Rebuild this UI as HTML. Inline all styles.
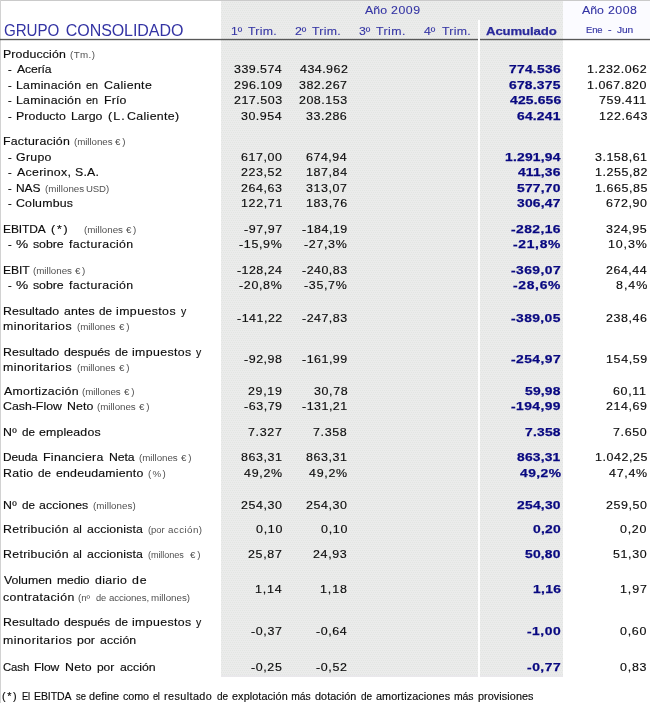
<!DOCTYPE html>
<html><head><meta charset="utf-8"><title>Grupo Consolidado</title><style>
html,body{margin:0;padding:0;background:#fff;}
body{width:650px;height:703px;position:relative;overflow:hidden;font-family:"Liberation Sans",sans-serif;}
.t{position:absolute;white-space:pre;display:block;transform-origin:0 0;}
.b{-webkit-text-stroke:0.15px currentColor;}
.g{position:absolute;}
#tx{position:absolute;left:0;top:0;width:650px;height:703px;will-change:transform;}
</style></head><body>

<svg class="g" style="left:221px;top:0;" width="342" height="677" viewBox="0 0 342 677" shape-rendering="crispEdges"><defs><pattern id="dz" width="2" height="4" patternUnits="userSpaceOnUse"><rect width="2" height="4" fill="#ebebeb"/><rect x="0" y="0" width="1" height="1" fill="#e2e6e2"/><rect x="1" y="2" width="1" height="1" fill="#e2e6e2"/></pattern></defs><rect width="342" height="675" fill="url(#dz)"/><rect y="675" width="342" height="2" fill="#e9e8eb"/></svg>
<div class="g" style="left:563px;top:0;width:87px;height:39px;background:#fbfbff;"></div>
<div class="g" style="left:0;top:0;width:650px;height:1px;background:#cacaca;"></div>
<div class="g" style="left:0;top:0;width:1px;height:703px;background:#d2d2d2;"></div>
<div class="g" style="left:0;top:38px;width:650px;height:1px;background:rgba(0,0,0,0.10);"></div>
<div class="g" style="left:0;top:39px;width:650px;height:1px;background:#585858;"></div>
<div class="g" style="left:0;top:40px;width:650px;height:1px;background:rgba(0,0,0,0.13);"></div>
<div class="g" style="left:478px;top:20px;width:2px;height:657px;background:#fff;"></div>
<div id="tx">
<span class="t" style="left:3.64px;top:20px;font-size:16px;line-height:21px;color:#3434a4;letter-spacing:-0.100px;transform:scaleX(0.9470638485491472);">GRUPO</span>
<span class="t" style="left:65.79px;top:20px;font-size:16px;line-height:21px;color:#3434a4;letter-spacing:-0.066px;">CONSOLIDADO</span>
<span class="t" style="left:364.88px;top:2px;font-size:11.75px;line-height:15px;color:#3434a4;letter-spacing:0.091px;transform:scaleX(1.05);-webkit-text-stroke:0.1px currentColor;">Año</span>
<span class="t" style="left:391.28px;top:2px;font-size:11.75px;line-height:15px;color:#3434a4;letter-spacing:0.527px;transform:scaleX(1.05);-webkit-text-stroke:0.1px currentColor;">2009</span>
<span class="t" style="left:582.08px;top:2px;font-size:11.75px;line-height:15px;color:#3434a4;letter-spacing:-0.052px;transform:scaleX(1.05);-webkit-text-stroke:0.1px currentColor;">Año</span>
<span class="t" style="left:608.28px;top:2px;font-size:11.75px;line-height:15px;color:#3434a4;letter-spacing:0.448px;transform:scaleX(1.05);-webkit-text-stroke:0.1px currentColor;">2008</span>
<span class="t" style="left:230.88px;top:23px;font-size:11.75px;line-height:15px;color:#3434a4;letter-spacing:-0.100px;transform:scaleX(1.032221645405653);-webkit-text-stroke:0.1px currentColor;">1º</span>
<span class="t" style="left:247.82px;top:23px;font-size:11.75px;line-height:15px;color:#3434a4;letter-spacing:0.265px;transform:scaleX(1.05);-webkit-text-stroke:0.1px currentColor;">Trim.</span>
<span class="t" style="left:295.18px;top:23px;font-size:11.75px;line-height:15px;color:#3434a4;transform:scaleX(1.05);-webkit-text-stroke:0.1px currentColor;">2º</span>
<span class="t" style="left:312.42px;top:23px;font-size:11.75px;line-height:15px;color:#3434a4;letter-spacing:0.265px;transform:scaleX(1.05);-webkit-text-stroke:0.1px currentColor;">Trim.</span>
<span class="t" style="left:359.33px;top:23px;font-size:11.75px;line-height:15px;color:#3434a4;letter-spacing:-0.100px;transform:scaleX(1.0458443335324688);-webkit-text-stroke:0.1px currentColor;">3º</span>
<span class="t" style="left:376.42px;top:23px;font-size:11.75px;line-height:15px;color:#3434a4;letter-spacing:0.408px;transform:scaleX(1.05);-webkit-text-stroke:0.1px currentColor;">Trim.</span>
<span class="t" style="left:423.92px;top:23px;font-size:11.75px;line-height:15px;color:#3434a4;letter-spacing:-0.032px;transform:scaleX(1.05);-webkit-text-stroke:0.1px currentColor;">4º</span>
<span class="t" style="left:441.52px;top:23px;font-size:11.75px;line-height:15px;color:#3434a4;letter-spacing:0.265px;transform:scaleX(1.05);-webkit-text-stroke:0.1px currentColor;">Trim.</span>
<span class="t" style="left:486.37px;top:23px;font-size:11.75px;line-height:15px;color:#2a2a9c;letter-spacing:-0.100px;font-weight:bold;transform:scaleX(1.1197419407320965);-webkit-text-stroke:0.25px currentColor;">Acumulado</span>
<span class="t" style="left:586.43px;top:24px;font-size:9.6px;line-height:12px;color:#3434a4;letter-spacing:-0.100px;transform:scaleX(0.9829460456766788);-webkit-text-stroke:0.15px currentColor;">Ene</span>
<span class="t" style="left:608.23px;top:24px;font-size:9.6px;line-height:12px;color:#3434a4;transform:scaleX(1.1093333333333917);-webkit-text-stroke:0.15px currentColor;">-</span>
<span class="t" style="left:617.04px;top:24px;font-size:9.6px;line-height:12px;color:#3434a4;letter-spacing:-0.100px;transform:scaleX(1.0617257352149152);-webkit-text-stroke:0.15px currentColor;">Jun</span>
<span class="t b" style="left:3.09px;top:46px;font-size:11.75px;line-height:15px;color:#0c0c0c;letter-spacing:0.115px;transform:scaleX(1.05);">Producción</span>
<span class="t s" style="left:69.69px;top:50px;font-size:8.5px;line-height:11px;color:#505050;letter-spacing:0.364px;transform:scaleX(1.15);">(Tm.)</span>
<span class="t b" style="left:8.21px;top:61px;font-size:11.75px;line-height:15px;color:#0c0c0c;transform:scaleX(0.9412085106382976);">-</span>
<span class="t b" style="left:16.68px;top:61px;font-size:11.75px;line-height:15px;color:#0c0c0c;letter-spacing:-0.100px;transform:scaleX(1.0348079106564592);">Acería</span>
<span class="t b" style="left:8.21px;top:77px;font-size:11.75px;line-height:15px;color:#0c0c0c;transform:scaleX(0.9412085106382976);">-</span>
<span class="t b" style="left:16.39px;top:77px;font-size:11.75px;line-height:15px;color:#0c0c0c;letter-spacing:0.203px;transform:scaleX(1.05);">Laminación</span>
<span class="t b" style="left:86.34px;top:77px;font-size:11.75px;line-height:15px;color:#0c0c0c;letter-spacing:-0.100px;transform:scaleX(0.9224955894681072);">en</span>
<span class="t b" style="left:103.77px;top:77px;font-size:11.75px;line-height:15px;color:#0c0c0c;letter-spacing:0.341px;transform:scaleX(1.05);">Caliente</span>
<span class="t b" style="left:8.21px;top:92px;font-size:11.75px;line-height:15px;color:#0c0c0c;transform:scaleX(0.9412085106382976);">-</span>
<span class="t b" style="left:16.39px;top:92px;font-size:11.75px;line-height:15px;color:#0c0c0c;letter-spacing:0.203px;transform:scaleX(1.05);">Laminación</span>
<span class="t b" style="left:86.34px;top:92px;font-size:11.75px;line-height:15px;color:#0c0c0c;letter-spacing:-0.100px;transform:scaleX(0.9224955894681072);">en</span>
<span class="t b" style="left:103.99px;top:92px;font-size:11.75px;line-height:15px;color:#0c0c0c;letter-spacing:0.126px;transform:scaleX(1.05);">Frío</span>
<span class="t b" style="left:8.21px;top:108px;font-size:11.75px;line-height:15px;color:#0c0c0c;transform:scaleX(0.9412085106382976);">-</span>
<span class="t b" style="left:15.99px;top:108px;font-size:11.75px;line-height:15px;color:#0c0c0c;letter-spacing:0.075px;transform:scaleX(1.05);">Producto</span>
<span class="t b" style="left:70.79px;top:108px;font-size:11.75px;line-height:15px;color:#0c0c0c;letter-spacing:-0.053px;transform:scaleX(1.05);">Largo</span>
<span class="t b" style="left:107.63px;top:108px;font-size:11.75px;line-height:15px;color:#0c0c0c;letter-spacing:1.092px;transform:scaleX(1.05);">(L.</span>
<span class="t b" style="left:126.77px;top:108px;font-size:11.75px;line-height:15px;color:#0c0c0c;letter-spacing:0.335px;transform:scaleX(1.05);">Caliente)</span>
<span class="t b" style="left:3.09px;top:133px;font-size:11.75px;line-height:15px;color:#0c0c0c;letter-spacing:0.224px;transform:scaleX(1.05);">Facturación</span>
<span class="t s" style="left:73.99px;top:137px;font-size:8.5px;line-height:11px;color:#505050;letter-spacing:-0.060px;transform:scaleX(1.15);">(millones</span>
<span class="t s" style="left:115.42px;top:137px;font-size:8.5px;line-height:11px;color:#505050;letter-spacing:1.644px;transform:scaleX(1.15);">€)</span>
<span class="t b" style="left:8.21px;top:149px;font-size:11.75px;line-height:15px;color:#0c0c0c;transform:scaleX(0.9412085106382976);">-</span>
<span class="t b" style="left:16.08px;top:149px;font-size:11.75px;line-height:15px;color:#0c0c0c;letter-spacing:0.274px;transform:scaleX(1.05);">Grupo</span>
<span class="t b" style="left:8.21px;top:164px;font-size:11.75px;line-height:15px;color:#0c0c0c;transform:scaleX(0.9412085106382976);">-</span>
<span class="t b" style="left:16.78px;top:164px;font-size:11.75px;line-height:15px;color:#0c0c0c;letter-spacing:0.298px;transform:scaleX(1.05);">Acerinox,</span>
<span class="t b" style="left:74.84px;top:164px;font-size:11.75px;line-height:15px;color:#0c0c0c;letter-spacing:0.182px;transform:scaleX(1.05);">S.A.</span>
<span class="t b" style="left:8.21px;top:180px;font-size:11.75px;line-height:15px;color:#0c0c0c;transform:scaleX(0.9412085106382976);">-</span>
<span class="t b" style="left:15.72px;top:180px;font-size:11.75px;line-height:15px;color:#0c0c0c;letter-spacing:-0.100px;transform:scaleX(1.0197440159682896);">NAS</span>
<span class="t s" style="left:44.69px;top:184px;font-size:8.5px;line-height:11px;color:#505050;letter-spacing:0.005px;transform:scaleX(1.15);">(millones</span>
<span class="t s" style="left:86.26px;top:184px;font-size:8.5px;line-height:11px;color:#505050;letter-spacing:-0.100px;transform:scaleX(1.1298852814564935);">USD)</span>
<span class="t b" style="left:8.21px;top:195px;font-size:11.75px;line-height:15px;color:#0c0c0c;transform:scaleX(0.9412085106382976);">-</span>
<span class="t b" style="left:16.07px;top:195px;font-size:11.75px;line-height:15px;color:#0c0c0c;letter-spacing:0.194px;transform:scaleX(1.05);">Columbus</span>
<span class="t b" style="left:3.12px;top:221px;font-size:11.75px;line-height:15px;color:#0c0c0c;letter-spacing:-0.100px;transform:scaleX(1.0182646305730017);">EBITDA</span>
<span class="t b" style="left:51.33px;top:221px;font-size:11.75px;line-height:15px;color:#0c0c0c;letter-spacing:1.768px;transform:scaleX(1.05);">(*)</span>
<span class="t s" style="left:84.09px;top:225px;font-size:8.5px;line-height:11px;color:#505050;letter-spacing:-0.016px;transform:scaleX(1.15);">(millones</span>
<span class="t s" style="left:126.22px;top:225px;font-size:8.5px;line-height:11px;color:#505050;letter-spacing:1.383px;transform:scaleX(1.15);">€)</span>
<span class="t b" style="left:8.21px;top:236px;font-size:11.75px;line-height:15px;color:#0c0c0c;transform:scaleX(0.9412085106382976);">-</span>
<span class="t b" style="left:16.21px;top:236px;font-size:11.75px;line-height:15px;color:#0c0c0c;transform:scaleX(1.165454429977771);">%</span>
<span class="t b" style="left:33.26px;top:236px;font-size:11.75px;line-height:15px;color:#0c0c0c;letter-spacing:-0.064px;transform:scaleX(1.05);">sobre</span>
<span class="t b" style="left:68.53px;top:236px;font-size:11.75px;line-height:15px;color:#0c0c0c;letter-spacing:0.364px;transform:scaleX(1.05);">facturación</span>
<span class="t b" style="left:3.11px;top:262px;font-size:11.75px;line-height:15px;color:#0c0c0c;letter-spacing:-0.100px;transform:scaleX(1.0291794574871365);">EBIT</span>
<span class="t s" style="left:33.29px;top:266px;font-size:8.5px;line-height:11px;color:#505050;letter-spacing:-0.016px;transform:scaleX(1.15);">(millones</span>
<span class="t s" style="left:75.42px;top:266px;font-size:8.5px;line-height:11px;color:#505050;letter-spacing:1.383px;transform:scaleX(1.15);">€)</span>
<span class="t b" style="left:8.21px;top:277px;font-size:11.75px;line-height:15px;color:#0c0c0c;transform:scaleX(0.9412085106382976);">-</span>
<span class="t b" style="left:16.21px;top:277px;font-size:11.75px;line-height:15px;color:#0c0c0c;transform:scaleX(1.165454429977771);">%</span>
<span class="t b" style="left:33.26px;top:277px;font-size:11.75px;line-height:15px;color:#0c0c0c;letter-spacing:-0.064px;transform:scaleX(1.05);">sobre</span>
<span class="t b" style="left:68.53px;top:277px;font-size:11.75px;line-height:15px;color:#0c0c0c;letter-spacing:0.364px;transform:scaleX(1.05);">facturación</span>
<span class="t b" style="left:3.09px;top:303px;font-size:11.75px;line-height:15px;color:#0c0c0c;letter-spacing:0.068px;transform:scaleX(1.05);">Resultado</span>
<span class="t b" style="left:63.98px;top:303px;font-size:11.75px;line-height:15px;color:#0c0c0c;letter-spacing:0.093px;transform:scaleX(1.05);">antes</span>
<span class="t b" style="left:99.41px;top:303px;font-size:11.75px;line-height:15px;color:#0c0c0c;letter-spacing:-0.100px;transform:scaleX(0.9954762590398225);">de</span>
<span class="t b" style="left:116.47px;top:303px;font-size:11.75px;line-height:15px;color:#0c0c0c;letter-spacing:0.398px;transform:scaleX(1.05);">impuestos</span>
<span class="t b" style="left:180.67px;top:303px;font-size:11.75px;line-height:15px;color:#0c0c0c;transform:scaleX(0.8929546169164638);">y</span>
<span class="t b" style="left:3.28px;top:318px;font-size:11.75px;line-height:15px;color:#0c0c0c;letter-spacing:0.416px;transform:scaleX(1.05);">minoritarios</span>
<span class="t s" style="left:76.99px;top:322px;font-size:8.5px;line-height:11px;color:#505050;letter-spacing:-0.082px;transform:scaleX(1.15);">(millones</span>
<span class="t s" style="left:118.52px;top:322px;font-size:8.5px;line-height:11px;color:#505050;letter-spacing:1.557px;transform:scaleX(1.15);">€)</span>
<span class="t b" style="left:3.09px;top:344px;font-size:11.75px;line-height:15px;color:#0c0c0c;letter-spacing:0.068px;transform:scaleX(1.05);">Resultado</span>
<span class="t b" style="left:63.98px;top:344px;font-size:11.75px;line-height:15px;color:#0c0c0c;letter-spacing:-0.061px;transform:scaleX(1.05);">después</span>
<span class="t b" style="left:115.11px;top:344px;font-size:11.75px;line-height:15px;color:#0c0c0c;letter-spacing:-0.100px;transform:scaleX(0.9954762590398225);">de</span>
<span class="t b" style="left:132.17px;top:344px;font-size:11.75px;line-height:15px;color:#0c0c0c;letter-spacing:0.350px;transform:scaleX(1.05);">impuestos</span>
<span class="t b" style="left:196.37px;top:344px;font-size:11.75px;line-height:15px;color:#0c0c0c;transform:scaleX(0.8929546169164638);">y</span>
<span class="t b" style="left:3.28px;top:359px;font-size:11.75px;line-height:15px;color:#0c0c0c;letter-spacing:0.416px;transform:scaleX(1.05);">minoritarios</span>
<span class="t s" style="left:76.99px;top:363px;font-size:8.5px;line-height:11px;color:#505050;letter-spacing:-0.082px;transform:scaleX(1.15);">(millones</span>
<span class="t s" style="left:118.52px;top:363px;font-size:8.5px;line-height:11px;color:#505050;letter-spacing:1.557px;transform:scaleX(1.15);">€)</span>
<span class="t b" style="left:3.68px;top:383px;font-size:11.75px;line-height:15px;color:#0c0c0c;letter-spacing:0.279px;transform:scaleX(1.05);">Amortización</span>
<span class="t s" style="left:82.29px;top:387px;font-size:8.5px;line-height:11px;color:#505050;letter-spacing:-0.038px;transform:scaleX(1.15);">(millones</span>
<span class="t s" style="left:124.22px;top:387px;font-size:8.5px;line-height:11px;color:#505050;letter-spacing:1.557px;transform:scaleX(1.15);">€)</span>
<span class="t b" style="left:3.07px;top:398px;font-size:11.75px;line-height:15px;color:#0c0c0c;letter-spacing:-0.007px;transform:scaleX(1.05);">Cash-Flow</span>
<span class="t b" style="left:67.19px;top:398px;font-size:11.75px;line-height:15px;color:#0c0c0c;letter-spacing:0.117px;transform:scaleX(1.05);">Neto</span>
<span class="t s" style="left:97.29px;top:402px;font-size:8.5px;line-height:11px;color:#505050;letter-spacing:-0.038px;transform:scaleX(1.15);">(millones</span>
<span class="t s" style="left:139.22px;top:402px;font-size:8.5px;line-height:11px;color:#505050;letter-spacing:1.557px;transform:scaleX(1.15);">€)</span>
<span class="t b" style="left:2.69px;top:424px;font-size:11.75px;line-height:15px;color:#0c0c0c;letter-spacing:0.330px;transform:scaleX(1.05);">Nº</span>
<span class="t b" style="left:21.61px;top:424px;font-size:11.75px;line-height:15px;color:#0c0c0c;letter-spacing:-0.100px;transform:scaleX(0.9954762590398234);">de</span>
<span class="t b" style="left:39.28px;top:424px;font-size:11.75px;line-height:15px;color:#0c0c0c;letter-spacing:0.144px;transform:scaleX(1.05);">empleados</span>
<span class="t b" style="left:2.73px;top:449px;font-size:11.75px;line-height:15px;color:#0c0c0c;letter-spacing:-0.100px;transform:scaleX(1.0101992056437317);">Deuda</span>
<span class="t b" style="left:42.79px;top:449px;font-size:11.75px;line-height:15px;color:#0c0c0c;letter-spacing:0.287px;transform:scaleX(1.05);">Financiera</span>
<span class="t b" style="left:108.59px;top:449px;font-size:11.75px;line-height:15px;color:#0c0c0c;letter-spacing:-0.100px;transform:scaleX(1.0443326472106305);">Neta</span>
<span class="t s" style="left:139.09px;top:453px;font-size:8.5px;line-height:11px;color:#505050;letter-spacing:-0.038px;transform:scaleX(1.15);">(millones</span>
<span class="t s" style="left:181.02px;top:453px;font-size:8.5px;line-height:11px;color:#505050;letter-spacing:1.557px;transform:scaleX(1.15);">€)</span>
<span class="t b" style="left:2.69px;top:465px;font-size:11.75px;line-height:15px;color:#0c0c0c;letter-spacing:0.316px;transform:scaleX(1.05);">Ratio</span>
<span class="t b" style="left:37.61px;top:465px;font-size:11.75px;line-height:15px;color:#0c0c0c;letter-spacing:-0.100px;transform:scaleX(0.9954762590398231);">de</span>
<span class="t b" style="left:55.68px;top:465px;font-size:11.75px;line-height:15px;color:#0c0c0c;letter-spacing:0.181px;transform:scaleX(1.05);">endeudamiento</span>
<span class="t s" style="left:148.09px;top:469px;font-size:8.5px;line-height:11px;color:#505050;letter-spacing:1.092px;transform:scaleX(1.15);">(%)</span>
<span class="t b" style="left:2.69px;top:497px;font-size:11.75px;line-height:15px;color:#0c0c0c;letter-spacing:0.330px;transform:scaleX(1.05);">Nº</span>
<span class="t b" style="left:21.61px;top:497px;font-size:11.75px;line-height:15px;color:#0c0c0c;letter-spacing:-0.100px;transform:scaleX(0.9954762590398234);">de</span>
<span class="t b" style="left:39.28px;top:497px;font-size:11.75px;line-height:15px;color:#0c0c0c;letter-spacing:0.078px;transform:scaleX(1.05);">acciones</span>
<span class="t s" style="left:92.99px;top:501px;font-size:8.5px;line-height:11px;color:#505050;letter-spacing:0.034px;transform:scaleX(1.15);">(millones)</span>
<span class="t b" style="left:2.69px;top:521px;font-size:11.75px;line-height:15px;color:#0c0c0c;letter-spacing:0.296px;transform:scaleX(1.05);">Retribución</span>
<span class="t b" style="left:73.42px;top:521px;font-size:11.75px;line-height:15px;color:#0c0c0c;letter-spacing:-0.100px;transform:scaleX(0.9664814663335979);">al</span>
<span class="t b" style="left:87.38px;top:521px;font-size:11.75px;line-height:15px;color:#0c0c0c;letter-spacing:0.102px;transform:scaleX(1.05);">accionista</span>
<span class="t s" style="left:148.11px;top:525px;font-size:8.5px;line-height:11px;color:#505050;letter-spacing:-0.100px;transform:scaleX(1.1168043183394833);">(por</span>
<span class="t s" style="left:167.68px;top:525px;font-size:8.5px;line-height:11px;color:#505050;letter-spacing:0.378px;transform:scaleX(1.15);">acción)</span>
<span class="t b" style="left:2.69px;top:546px;font-size:11.75px;line-height:15px;color:#0c0c0c;letter-spacing:0.296px;transform:scaleX(1.05);">Retribución</span>
<span class="t b" style="left:73.42px;top:546px;font-size:11.75px;line-height:15px;color:#0c0c0c;letter-spacing:-0.100px;transform:scaleX(0.9664814663335979);">al</span>
<span class="t b" style="left:87.38px;top:546px;font-size:11.75px;line-height:15px;color:#0c0c0c;letter-spacing:0.102px;transform:scaleX(1.05);">accionista</span>
<span class="t s" style="left:148.13px;top:550px;font-size:8.5px;line-height:11px;color:#505050;letter-spacing:-0.100px;transform:scaleX(1.074934278099789);">(millones</span>
<span class="t s" style="left:189.62px;top:550px;font-size:8.5px;line-height:11px;color:#505050;letter-spacing:1.644px;transform:scaleX(1.15);">€)</span>
<span class="t b" style="left:3.65px;top:572px;font-size:11.75px;line-height:15px;color:#0c0c0c;letter-spacing:-0.022px;transform:scaleX(1.05);">Volumen</span>
<span class="t b" style="left:56.99px;top:572px;font-size:11.75px;line-height:15px;color:#0c0c0c;letter-spacing:-0.100px;transform:scaleX(1.0320154297434707);">medio</span>
<span class="t b" style="left:95.08px;top:572px;font-size:11.75px;line-height:15px;color:#0c0c0c;letter-spacing:0.335px;transform:scaleX(1.05);">diario</span>
<span class="t b" style="left:132.48px;top:572px;font-size:11.75px;line-height:15px;color:#0c0c0c;letter-spacing:0.803px;transform:scaleX(1.05);">de</span>
<span class="t b" style="left:3.18px;top:589px;font-size:11.75px;line-height:15px;color:#0c0c0c;letter-spacing:0.356px;transform:scaleX(1.05);">contratación</span>
<span class="t s" style="left:78.49px;top:593px;font-size:8.5px;line-height:11px;color:#505050;letter-spacing:-0.059px;transform:scaleX(1.15);">(nº</span>
<span class="t s" style="left:95.71px;top:593px;font-size:8.5px;line-height:11px;color:#505050;letter-spacing:-0.100px;transform:scaleX(1.0904909452409417);">de</span>
<span class="t s" style="left:108.69px;top:593px;font-size:8.5px;line-height:11px;color:#505050;letter-spacing:-0.100px;transform:scaleX(1.1416995090524298);">acciones,</span>
<span class="t s" style="left:151.45px;top:593px;font-size:8.5px;line-height:11px;color:#505050;letter-spacing:-0.006px;transform:scaleX(1.15);">millones)</span>
<span class="t b" style="left:2.69px;top:614px;font-size:11.75px;line-height:15px;color:#0c0c0c;letter-spacing:0.116px;transform:scaleX(1.05);">Resultado</span>
<span class="t b" style="left:63.98px;top:614px;font-size:11.75px;line-height:15px;color:#0c0c0c;letter-spacing:-0.061px;transform:scaleX(1.05);">después</span>
<span class="t b" style="left:115.11px;top:614px;font-size:11.75px;line-height:15px;color:#0c0c0c;letter-spacing:-0.100px;transform:scaleX(0.9954762590398225);">de</span>
<span class="t b" style="left:132.17px;top:614px;font-size:11.75px;line-height:15px;color:#0c0c0c;letter-spacing:0.350px;transform:scaleX(1.05);">impuestos</span>
<span class="t b" style="left:196.37px;top:614px;font-size:11.75px;line-height:15px;color:#0c0c0c;transform:scaleX(0.8929546169164638);">y</span>
<span class="t b" style="left:2.88px;top:632px;font-size:11.75px;line-height:15px;color:#0c0c0c;letter-spacing:0.451px;transform:scaleX(1.05);">minoritarios</span>
<span class="t b" style="left:77.10px;top:632px;font-size:11.75px;line-height:15px;color:#0c0c0c;letter-spacing:0.033px;transform:scaleX(1.05);">por</span>
<span class="t b" style="left:100.08px;top:632px;font-size:11.75px;line-height:15px;color:#0c0c0c;letter-spacing:0.107px;transform:scaleX(1.05);">acción</span>
<span class="t b" style="left:3.12px;top:659px;font-size:11.75px;line-height:15px;color:#0c0c0c;letter-spacing:-0.100px;transform:scaleX(0.9662280967683261);">Cash</span>
<span class="t b" style="left:34.41px;top:659px;font-size:11.75px;line-height:15px;color:#0c0c0c;letter-spacing:-0.100px;transform:scaleX(1.0308436564973018);">Flow</span>
<span class="t b" style="left:65.19px;top:659px;font-size:11.75px;line-height:15px;color:#0c0c0c;letter-spacing:0.213px;transform:scaleX(1.05);">Neto</span>
<span class="t b" style="left:97.12px;top:659px;font-size:11.75px;line-height:15px;color:#0c0c0c;letter-spacing:-0.100px;transform:scaleX(1.0233714477836136);">por</span>
<span class="t b" style="left:120.08px;top:659px;font-size:11.75px;line-height:15px;color:#0c0c0c;letter-spacing:-0.007px;transform:scaleX(1.05);">acción</span>
<span class="t" style="left:234.33px;top:61px;font-size:11.75px;line-height:15px;color:#0c0c0c;letter-spacing:0.427px;transform:scaleX(1.06);-webkit-text-stroke:0.15px currentColor;">339.574</span>
<span class="t" style="left:299.51px;top:61px;font-size:11.75px;line-height:15px;color:#0c0c0c;letter-spacing:0.439px;transform:scaleX(1.06);-webkit-text-stroke:0.15px currentColor;">434.962</span>
<span class="t" style="left:509.20px;top:61px;font-size:11.75px;line-height:15px;color:#080880;letter-spacing:0.209px;font-weight:bold;transform:scaleX(1.18);-webkit-text-stroke:0.25px currentColor;">774.536</span>
<span class="t" style="left:587.40px;top:61px;font-size:11.75px;line-height:15px;color:#0c0c0c;letter-spacing:0.497px;transform:scaleX(1.06);-webkit-text-stroke:0.15px currentColor;">1.232.062</span>
<span class="t" style="left:234.17px;top:77px;font-size:11.75px;line-height:15px;color:#0c0c0c;letter-spacing:0.487px;transform:scaleX(1.06);-webkit-text-stroke:0.15px currentColor;">296.109</span>
<span class="t" style="left:299.33px;top:77px;font-size:11.75px;line-height:15px;color:#0c0c0c;letter-spacing:0.468px;transform:scaleX(1.06);-webkit-text-stroke:0.15px currentColor;">382.267</span>
<span class="t" style="left:509.29px;top:77px;font-size:11.75px;line-height:15px;color:#080880;letter-spacing:0.180px;font-weight:bold;transform:scaleX(1.18);-webkit-text-stroke:0.25px currentColor;">678.375</span>
<span class="t" style="left:587.40px;top:77px;font-size:11.75px;line-height:15px;color:#0c0c0c;letter-spacing:0.481px;transform:scaleX(1.06);-webkit-text-stroke:0.15px currentColor;">1.067.820</span>
<span class="t" style="left:234.17px;top:92px;font-size:11.75px;line-height:15px;color:#0c0c0c;letter-spacing:0.480px;transform:scaleX(1.06);-webkit-text-stroke:0.15px currentColor;">217.503</span>
<span class="t" style="left:299.17px;top:92px;font-size:11.75px;line-height:15px;color:#0c0c0c;letter-spacing:0.480px;transform:scaleX(1.06);-webkit-text-stroke:0.15px currentColor;">208.153</span>
<span class="t" style="left:509.59px;top:92px;font-size:11.75px;line-height:15px;color:#080880;letter-spacing:0.154px;font-weight:bold;transform:scaleX(1.18);-webkit-text-stroke:0.25px currentColor;">425.656</span>
<span class="t" style="left:598.86px;top:92px;font-size:11.75px;line-height:15px;color:#0c0c0c;letter-spacing:0.491px;transform:scaleX(1.06);-webkit-text-stroke:0.15px currentColor;">759.411</span>
<span class="t" style="left:241.48px;top:108px;font-size:11.75px;line-height:15px;color:#0c0c0c;letter-spacing:0.471px;transform:scaleX(1.06);-webkit-text-stroke:0.15px currentColor;">30.954</span>
<span class="t" style="left:306.48px;top:108px;font-size:11.75px;line-height:15px;color:#0c0c0c;letter-spacing:0.505px;transform:scaleX(1.06);-webkit-text-stroke:0.15px currentColor;">33.286</span>
<span class="t" style="left:517.29px;top:108px;font-size:11.75px;line-height:15px;color:#080880;letter-spacing:0.167px;font-weight:bold;transform:scaleX(1.18);-webkit-text-stroke:0.25px currentColor;">64.241</span>
<span class="t" style="left:598.55px;top:108px;font-size:11.75px;line-height:15px;color:#0c0c0c;letter-spacing:0.531px;transform:scaleX(1.06);-webkit-text-stroke:0.15px currentColor;">122.643</span>
<span class="t" style="left:241.32px;top:149px;font-size:11.75px;line-height:15px;color:#0c0c0c;letter-spacing:0.523px;transform:scaleX(1.06);-webkit-text-stroke:0.15px currentColor;">617,00</span>
<span class="t" style="left:306.32px;top:149px;font-size:11.75px;line-height:15px;color:#0c0c0c;letter-spacing:0.500px;transform:scaleX(1.06);-webkit-text-stroke:0.15px currentColor;">674,94</span>
<span class="t" style="left:504.93px;top:149px;font-size:11.75px;line-height:15px;color:#080880;letter-spacing:0.179px;font-weight:bold;transform:scaleX(1.18);-webkit-text-stroke:0.25px currentColor;">1.291,94</span>
<span class="t" style="left:595.03px;top:149px;font-size:11.75px;line-height:15px;color:#0c0c0c;letter-spacing:0.472px;transform:scaleX(1.06);-webkit-text-stroke:0.15px currentColor;">3.158,61</span>
<span class="t" style="left:241.32px;top:164px;font-size:11.75px;line-height:15px;color:#0c0c0c;letter-spacing:0.549px;transform:scaleX(1.06);-webkit-text-stroke:0.15px currentColor;">223,52</span>
<span class="t" style="left:306.00px;top:164px;font-size:11.75px;line-height:15px;color:#0c0c0c;letter-spacing:0.560px;transform:scaleX(1.06);-webkit-text-stroke:0.15px currentColor;">187,84</span>
<span class="t" style="left:517.59px;top:164px;font-size:11.75px;line-height:15px;color:#080880;letter-spacing:0.136px;font-weight:bold;transform:scaleX(1.18);-webkit-text-stroke:0.25px currentColor;">411,36</span>
<span class="t" style="left:594.55px;top:164px;font-size:11.75px;line-height:15px;color:#0c0c0c;letter-spacing:0.538px;transform:scaleX(1.06);-webkit-text-stroke:0.15px currentColor;">1.255,82</span>
<span class="t" style="left:241.32px;top:180px;font-size:11.75px;line-height:15px;color:#0c0c0c;letter-spacing:0.534px;transform:scaleX(1.06);-webkit-text-stroke:0.15px currentColor;">264,63</span>
<span class="t" style="left:306.48px;top:180px;font-size:11.75px;line-height:15px;color:#0c0c0c;letter-spacing:0.520px;transform:scaleX(1.06);-webkit-text-stroke:0.15px currentColor;">313,07</span>
<span class="t" style="left:517.37px;top:180px;font-size:11.75px;line-height:15px;color:#080880;letter-spacing:0.184px;font-weight:bold;transform:scaleX(1.18);-webkit-text-stroke:0.25px currentColor;">577,70</span>
<span class="t" style="left:594.55px;top:180px;font-size:11.75px;line-height:15px;color:#0c0c0c;letter-spacing:0.524px;transform:scaleX(1.06);-webkit-text-stroke:0.15px currentColor;">1.665,85</span>
<span class="t" style="left:241.00px;top:195px;font-size:11.75px;line-height:15px;color:#0c0c0c;letter-spacing:0.606px;transform:scaleX(1.06);-webkit-text-stroke:0.15px currentColor;">122,71</span>
<span class="t" style="left:306.00px;top:195px;font-size:11.75px;line-height:15px;color:#0c0c0c;letter-spacing:0.595px;transform:scaleX(1.06);-webkit-text-stroke:0.15px currentColor;">183,76</span>
<span class="t" style="left:517.48px;top:195px;font-size:11.75px;line-height:15px;color:#080880;letter-spacing:0.173px;font-weight:bold;transform:scaleX(1.18);-webkit-text-stroke:0.25px currentColor;">306,47</span>
<span class="t" style="left:606.02px;top:195px;font-size:11.75px;line-height:15px;color:#0c0c0c;letter-spacing:0.523px;transform:scaleX(1.06);-webkit-text-stroke:0.15px currentColor;">672,90</span>
<span class="t" style="left:244.25px;top:221px;font-size:11.75px;line-height:15px;color:#0c0c0c;letter-spacing:0.522px;transform:scaleX(1.06);-webkit-text-stroke:0.15px currentColor;">-97,97</span>
<span class="t" style="left:302.10px;top:221px;font-size:11.75px;line-height:15px;color:#0c0c0c;letter-spacing:0.464px;transform:scaleX(1.06);-webkit-text-stroke:0.15px currentColor;">-184,19</span>
<span class="t" style="left:511.26px;top:221px;font-size:11.75px;line-height:15px;color:#080880;letter-spacing:0.356px;font-weight:bold;transform:scaleX(1.18);-webkit-text-stroke:0.25px currentColor;">-282,16</span>
<span class="t" style="left:606.18px;top:221px;font-size:11.75px;line-height:15px;color:#0c0c0c;letter-spacing:0.500px;transform:scaleX(1.06);-webkit-text-stroke:0.15px currentColor;">324,95</span>
<span class="t" style="left:239.40px;top:236px;font-size:11.75px;line-height:15px;color:#0c0c0c;letter-spacing:0.620px;transform:scaleX(1.06);-webkit-text-stroke:0.15px currentColor;">-15,9%</span>
<span class="t" style="left:304.40px;top:236px;font-size:11.75px;line-height:15px;color:#0c0c0c;letter-spacing:0.620px;transform:scaleX(1.06);-webkit-text-stroke:0.15px currentColor;">-27,3%</span>
<span class="t" style="left:513.26px;top:236px;font-size:11.75px;line-height:15px;color:#080880;letter-spacing:0.589px;font-weight:bold;transform:scaleX(1.18);-webkit-text-stroke:0.25px currentColor;">-21,8%</span>
<span class="t" style="left:608.00px;top:236px;font-size:11.75px;line-height:15px;color:#0c0c0c;letter-spacing:0.832px;transform:scaleX(1.06);-webkit-text-stroke:0.15px currentColor;">10,3%</span>
<span class="t" style="left:237.10px;top:262px;font-size:11.75px;line-height:15px;color:#0c0c0c;letter-spacing:0.429px;transform:scaleX(1.06);-webkit-text-stroke:0.15px currentColor;">-128,24</span>
<span class="t" style="left:302.10px;top:262px;font-size:11.75px;line-height:15px;color:#0c0c0c;letter-spacing:0.457px;transform:scaleX(1.06);-webkit-text-stroke:0.15px currentColor;">-240,83</span>
<span class="t" style="left:511.26px;top:262px;font-size:11.75px;line-height:15px;color:#080880;letter-spacing:0.371px;font-weight:bold;transform:scaleX(1.18);-webkit-text-stroke:0.25px currentColor;">-369,07</span>
<span class="t" style="left:606.02px;top:262px;font-size:11.75px;line-height:15px;color:#0c0c0c;letter-spacing:0.499px;transform:scaleX(1.06);-webkit-text-stroke:0.15px currentColor;">264,44</span>
<span class="t" style="left:239.40px;top:277px;font-size:11.75px;line-height:15px;color:#0c0c0c;letter-spacing:0.620px;transform:scaleX(1.06);-webkit-text-stroke:0.15px currentColor;">-20,8%</span>
<span class="t" style="left:304.40px;top:277px;font-size:11.75px;line-height:15px;color:#0c0c0c;letter-spacing:0.620px;transform:scaleX(1.06);-webkit-text-stroke:0.15px currentColor;">-35,7%</span>
<span class="t" style="left:513.26px;top:277px;font-size:11.75px;line-height:15px;color:#080880;letter-spacing:0.589px;font-weight:bold;transform:scaleX(1.18);-webkit-text-stroke:0.25px currentColor;">-28,6%</span>
<span class="t" style="left:615.56px;top:277px;font-size:11.75px;line-height:15px;color:#0c0c0c;letter-spacing:0.911px;transform:scaleX(1.06);-webkit-text-stroke:0.15px currentColor;">8,4%</span>
<span class="t" style="left:237.10px;top:310px;font-size:11.75px;line-height:15px;color:#0c0c0c;letter-spacing:0.470px;transform:scaleX(1.06);-webkit-text-stroke:0.15px currentColor;">-141,22</span>
<span class="t" style="left:302.10px;top:310px;font-size:11.75px;line-height:15px;color:#0c0c0c;letter-spacing:0.457px;transform:scaleX(1.06);-webkit-text-stroke:0.15px currentColor;">-247,83</span>
<span class="t" style="left:511.26px;top:310px;font-size:11.75px;line-height:15px;color:#080880;letter-spacing:0.339px;font-weight:bold;transform:scaleX(1.18);-webkit-text-stroke:0.25px currentColor;">-389,05</span>
<span class="t" style="left:606.02px;top:310px;font-size:11.75px;line-height:15px;color:#0c0c0c;letter-spacing:0.534px;transform:scaleX(1.06);-webkit-text-stroke:0.15px currentColor;">238,46</span>
<span class="t" style="left:244.25px;top:351px;font-size:11.75px;line-height:15px;color:#0c0c0c;letter-spacing:0.506px;transform:scaleX(1.06);-webkit-text-stroke:0.15px currentColor;">-92,98</span>
<span class="t" style="left:302.10px;top:351px;font-size:11.75px;line-height:15px;color:#0c0c0c;letter-spacing:0.464px;transform:scaleX(1.06);-webkit-text-stroke:0.15px currentColor;">-161,99</span>
<span class="t" style="left:511.26px;top:351px;font-size:11.75px;line-height:15px;color:#080880;letter-spacing:0.371px;font-weight:bold;transform:scaleX(1.18);-webkit-text-stroke:0.25px currentColor;">-254,97</span>
<span class="t" style="left:605.70px;top:351px;font-size:11.75px;line-height:15px;color:#0c0c0c;letter-spacing:0.603px;transform:scaleX(1.06);-webkit-text-stroke:0.15px currentColor;">154,59</span>
<span class="t" style="left:248.47px;top:383px;font-size:11.75px;line-height:15px;color:#0c0c0c;letter-spacing:0.625px;transform:scaleX(1.06);-webkit-text-stroke:0.15px currentColor;">29,19</span>
<span class="t" style="left:313.63px;top:383px;font-size:11.75px;line-height:15px;color:#0c0c0c;letter-spacing:0.577px;transform:scaleX(1.06);-webkit-text-stroke:0.15px currentColor;">30,78</span>
<span class="t" style="left:525.37px;top:383px;font-size:11.75px;line-height:15px;color:#080880;letter-spacing:0.139px;font-weight:bold;transform:scaleX(1.18);-webkit-text-stroke:0.25px currentColor;">59,98</span>
<span class="t" style="left:613.17px;top:383px;font-size:11.75px;line-height:15px;color:#0c0c0c;letter-spacing:0.630px;transform:scaleX(1.06);-webkit-text-stroke:0.15px currentColor;">60,11</span>
<span class="t" style="left:244.25px;top:398px;font-size:11.75px;line-height:15px;color:#0c0c0c;letter-spacing:0.515px;transform:scaleX(1.06);-webkit-text-stroke:0.15px currentColor;">-63,79</span>
<span class="t" style="left:302.10px;top:398px;font-size:11.75px;line-height:15px;color:#0c0c0c;letter-spacing:0.467px;transform:scaleX(1.06);-webkit-text-stroke:0.15px currentColor;">-131,21</span>
<span class="t" style="left:511.26px;top:398px;font-size:11.75px;line-height:15px;color:#080880;letter-spacing:0.358px;font-weight:bold;transform:scaleX(1.18);-webkit-text-stroke:0.25px currentColor;">-194,99</span>
<span class="t" style="left:606.02px;top:398px;font-size:11.75px;line-height:15px;color:#0c0c0c;letter-spacing:0.542px;transform:scaleX(1.06);-webkit-text-stroke:0.15px currentColor;">214,69</span>
<span class="t" style="left:248.46px;top:424px;font-size:11.75px;line-height:15px;color:#0c0c0c;letter-spacing:0.636px;transform:scaleX(1.06);-webkit-text-stroke:0.15px currentColor;">7.327</span>
<span class="t" style="left:313.46px;top:424px;font-size:11.75px;line-height:15px;color:#0c0c0c;letter-spacing:0.616px;transform:scaleX(1.06);-webkit-text-stroke:0.15px currentColor;">7.358</span>
<span class="t" style="left:525.20px;top:424px;font-size:11.75px;line-height:15px;color:#080880;letter-spacing:0.175px;font-weight:bold;transform:scaleX(1.18);-webkit-text-stroke:0.25px currentColor;">7.358</span>
<span class="t" style="left:613.16px;top:424px;font-size:11.75px;line-height:15px;color:#0c0c0c;letter-spacing:0.603px;transform:scaleX(1.06);-webkit-text-stroke:0.15px currentColor;">7.650</span>
<span class="t" style="left:241.41px;top:449px;font-size:11.75px;line-height:15px;color:#0c0c0c;letter-spacing:0.529px;transform:scaleX(1.06);-webkit-text-stroke:0.15px currentColor;">863,31</span>
<span class="t" style="left:306.41px;top:449px;font-size:11.75px;line-height:15px;color:#0c0c0c;letter-spacing:0.529px;transform:scaleX(1.06);-webkit-text-stroke:0.15px currentColor;">863,31</span>
<span class="t" style="left:517.36px;top:449px;font-size:11.75px;line-height:15px;color:#080880;letter-spacing:0.156px;font-weight:bold;transform:scaleX(1.18);-webkit-text-stroke:0.25px currentColor;">863,31</span>
<span class="t" style="left:594.55px;top:449px;font-size:11.75px;line-height:15px;color:#0c0c0c;letter-spacing:0.524px;transform:scaleX(1.06);-webkit-text-stroke:0.15px currentColor;">1.042,25</span>
<span class="t" style="left:243.96px;top:465px;font-size:11.75px;line-height:15px;color:#0c0c0c;letter-spacing:0.676px;transform:scaleX(1.06);-webkit-text-stroke:0.15px currentColor;">49,2%</span>
<span class="t" style="left:308.96px;top:465px;font-size:11.75px;line-height:15px;color:#0c0c0c;letter-spacing:0.676px;transform:scaleX(1.06);-webkit-text-stroke:0.15px currentColor;">49,2%</span>
<span class="t" style="left:519.59px;top:465px;font-size:11.75px;line-height:15px;color:#080880;letter-spacing:0.373px;font-weight:bold;transform:scaleX(1.18);-webkit-text-stroke:0.25px currentColor;">49,2%</span>
<span class="t" style="left:608.66px;top:465px;font-size:11.75px;line-height:15px;color:#0c0c0c;letter-spacing:0.676px;transform:scaleX(1.06);-webkit-text-stroke:0.15px currentColor;">47,4%</span>
<span class="t" style="left:241.32px;top:497px;font-size:11.75px;line-height:15px;color:#0c0c0c;letter-spacing:0.522px;transform:scaleX(1.06);-webkit-text-stroke:0.15px currentColor;">254,30</span>
<span class="t" style="left:306.32px;top:497px;font-size:11.75px;line-height:15px;color:#0c0c0c;letter-spacing:0.522px;transform:scaleX(1.06);-webkit-text-stroke:0.15px currentColor;">254,30</span>
<span class="t" style="left:517.32px;top:497px;font-size:11.75px;line-height:15px;color:#080880;letter-spacing:0.194px;font-weight:bold;transform:scaleX(1.18);-webkit-text-stroke:0.25px currentColor;">254,30</span>
<span class="t" style="left:606.02px;top:497px;font-size:11.75px;line-height:15px;color:#0c0c0c;letter-spacing:0.522px;transform:scaleX(1.06);-webkit-text-stroke:0.15px currentColor;">259,50</span>
<span class="t" style="left:255.76px;top:521px;font-size:11.75px;line-height:15px;color:#0c0c0c;letter-spacing:0.686px;transform:scaleX(1.06);-webkit-text-stroke:0.15px currentColor;">0,10</span>
<span class="t" style="left:320.76px;top:521px;font-size:11.75px;line-height:15px;color:#0c0c0c;letter-spacing:0.686px;transform:scaleX(1.06);-webkit-text-stroke:0.15px currentColor;">0,10</span>
<span class="t" style="left:533.25px;top:521px;font-size:11.75px;line-height:15px;color:#080880;letter-spacing:0.178px;font-weight:bold;transform:scaleX(1.18);-webkit-text-stroke:0.25px currentColor;">0,20</span>
<span class="t" style="left:620.46px;top:521px;font-size:11.75px;line-height:15px;color:#0c0c0c;letter-spacing:0.686px;transform:scaleX(1.06);-webkit-text-stroke:0.15px currentColor;">0,20</span>
<span class="t" style="left:248.47px;top:546px;font-size:11.75px;line-height:15px;color:#0c0c0c;letter-spacing:0.633px;transform:scaleX(1.06);-webkit-text-stroke:0.15px currentColor;">25,87</span>
<span class="t" style="left:313.47px;top:546px;font-size:11.75px;line-height:15px;color:#0c0c0c;letter-spacing:0.615px;transform:scaleX(1.06);-webkit-text-stroke:0.15px currentColor;">24,93</span>
<span class="t" style="left:525.37px;top:546px;font-size:11.75px;line-height:15px;color:#080880;letter-spacing:0.169px;font-weight:bold;transform:scaleX(1.18);-webkit-text-stroke:0.25px currentColor;">50,80</span>
<span class="t" style="left:613.30px;top:546px;font-size:11.75px;line-height:15px;color:#0c0c0c;letter-spacing:0.570px;transform:scaleX(1.06);-webkit-text-stroke:0.15px currentColor;">51,30</span>
<span class="t" style="left:255.30px;top:581px;font-size:11.75px;line-height:15px;color:#0c0c0c;letter-spacing:0.793px;transform:scaleX(1.06);-webkit-text-stroke:0.15px currentColor;">1,14</span>
<span class="t" style="left:320.30px;top:581px;font-size:11.75px;line-height:15px;color:#0c0c0c;letter-spacing:0.849px;transform:scaleX(1.06);-webkit-text-stroke:0.15px currentColor;">1,18</span>
<span class="t" style="left:532.93px;top:581px;font-size:11.75px;line-height:15px;color:#080880;letter-spacing:0.251px;font-weight:bold;transform:scaleX(1.18);-webkit-text-stroke:0.25px currentColor;">1,16</span>
<span class="t" style="left:620.00px;top:581px;font-size:11.75px;line-height:15px;color:#0c0c0c;letter-spacing:0.875px;transform:scaleX(1.06);-webkit-text-stroke:0.15px currentColor;">1,97</span>
<span class="t" style="left:251.40px;top:623px;font-size:11.75px;line-height:15px;color:#0c0c0c;letter-spacing:0.599px;transform:scaleX(1.06);-webkit-text-stroke:0.15px currentColor;">-0,37</span>
<span class="t" style="left:316.40px;top:623px;font-size:11.75px;line-height:15px;color:#0c0c0c;letter-spacing:0.538px;transform:scaleX(1.06);-webkit-text-stroke:0.15px currentColor;">-0,64</span>
<span class="t" style="left:527.26px;top:623px;font-size:11.75px;line-height:15px;color:#080880;letter-spacing:0.425px;font-weight:bold;transform:scaleX(1.18);-webkit-text-stroke:0.25px currentColor;">-1,00</span>
<span class="t" style="left:620.46px;top:623px;font-size:11.75px;line-height:15px;color:#0c0c0c;letter-spacing:0.686px;transform:scaleX(1.06);-webkit-text-stroke:0.15px currentColor;">0,60</span>
<span class="t" style="left:251.40px;top:659px;font-size:11.75px;line-height:15px;color:#0c0c0c;letter-spacing:0.575px;transform:scaleX(1.06);-webkit-text-stroke:0.15px currentColor;">-0,25</span>
<span class="t" style="left:316.40px;top:659px;font-size:11.75px;line-height:15px;color:#0c0c0c;letter-spacing:0.599px;transform:scaleX(1.06);-webkit-text-stroke:0.15px currentColor;">-0,52</span>
<span class="t" style="left:527.26px;top:659px;font-size:11.75px;line-height:15px;color:#080880;letter-spacing:0.434px;font-weight:bold;transform:scaleX(1.18);-webkit-text-stroke:0.25px currentColor;">-0,77</span>
<span class="t" style="left:620.46px;top:659px;font-size:11.75px;line-height:15px;color:#0c0c0c;letter-spacing:0.705px;transform:scaleX(1.06);-webkit-text-stroke:0.15px currentColor;">0,83</span>
<span class="t" style="left:2.43px;top:690px;font-size:10.3px;line-height:13px;color:#0c0c0c;letter-spacing:1.490px;transform:scaleX(1.05);-webkit-text-stroke:0.15px currentColor;">(*)</span>
<span class="t" style="left:22.04px;top:690px;font-size:10.3px;line-height:13px;color:#0c0c0c;letter-spacing:-0.100px;transform:scaleX(0.9037248539909154);-webkit-text-stroke:0.15px currentColor;">El</span>
<span class="t" style="left:33.94px;top:690px;font-size:10.3px;line-height:13px;color:#0c0c0c;letter-spacing:-0.100px;transform:scaleX(1.021300251384659);-webkit-text-stroke:0.15px currentColor;">EBITDA</span>
<span class="t" style="left:75.64px;top:690px;font-size:10.3px;line-height:13px;color:#0c0c0c;letter-spacing:-0.100px;transform:scaleX(0.9168795651518014);-webkit-text-stroke:0.15px currentColor;">se</span>
<span class="t" style="left:89.45px;top:690px;font-size:10.3px;line-height:13px;color:#0c0c0c;letter-spacing:0.127px;transform:scaleX(1.05);-webkit-text-stroke:0.15px currentColor;">define</span>
<span class="t" style="left:123.44px;top:690px;font-size:10.3px;line-height:13px;color:#0c0c0c;letter-spacing:-0.100px;transform:scaleX(1.0492720504370132);-webkit-text-stroke:0.15px currentColor;">como</span>
<span class="t" style="left:153.41px;top:690px;font-size:10.3px;line-height:13px;color:#0c0c0c;letter-spacing:-0.350px;transform:scaleX(0.9);-webkit-text-stroke:0.15px currentColor;">el</span>
<span class="t" style="left:164.28px;top:690px;font-size:10.3px;line-height:13px;color:#0c0c0c;letter-spacing:0.391px;transform:scaleX(1.05);-webkit-text-stroke:0.15px currentColor;">resultado</span>
<span class="t" style="left:216.98px;top:690px;font-size:10.3px;line-height:13px;color:#0c0c0c;letter-spacing:-0.100px;transform:scaleX(0.9745329010286662);-webkit-text-stroke:0.15px currentColor;">de</span>
<span class="t" style="left:231.54px;top:690px;font-size:10.3px;line-height:13px;color:#0c0c0c;letter-spacing:0.100px;transform:scaleX(1.05);-webkit-text-stroke:0.15px currentColor;">explotación</span>
<span class="t" style="left:291.32px;top:690px;font-size:10.3px;line-height:13px;color:#0c0c0c;letter-spacing:-0.100px;-webkit-text-stroke:0.15px currentColor;">más</span>
<span class="t" style="left:314.95px;top:690px;font-size:10.3px;line-height:13px;color:#0c0c0c;letter-spacing:0.064px;transform:scaleX(1.05);-webkit-text-stroke:0.15px currentColor;">dotación</span>
<span class="t" style="left:360.98px;top:690px;font-size:10.3px;line-height:13px;color:#0c0c0c;letter-spacing:-0.100px;transform:scaleX(0.9745329010286716);-webkit-text-stroke:0.15px currentColor;">de</span>
<span class="t" style="left:375.94px;top:690px;font-size:10.3px;line-height:13px;color:#0c0c0c;letter-spacing:0.097px;transform:scaleX(1.05);-webkit-text-stroke:0.15px currentColor;">amortizaciones</span>
<span class="t" style="left:454.11px;top:690px;font-size:10.3px;line-height:13px;color:#0c0c0c;letter-spacing:-0.100px;transform:scaleX(1.0108669701513806);-webkit-text-stroke:0.15px currentColor;">más</span>
<span class="t" style="left:478.10px;top:690px;font-size:10.3px;line-height:13px;color:#0c0c0c;letter-spacing:0.075px;transform:scaleX(1.05);-webkit-text-stroke:0.15px currentColor;">provisiones</span>
</div>
</body></html>
